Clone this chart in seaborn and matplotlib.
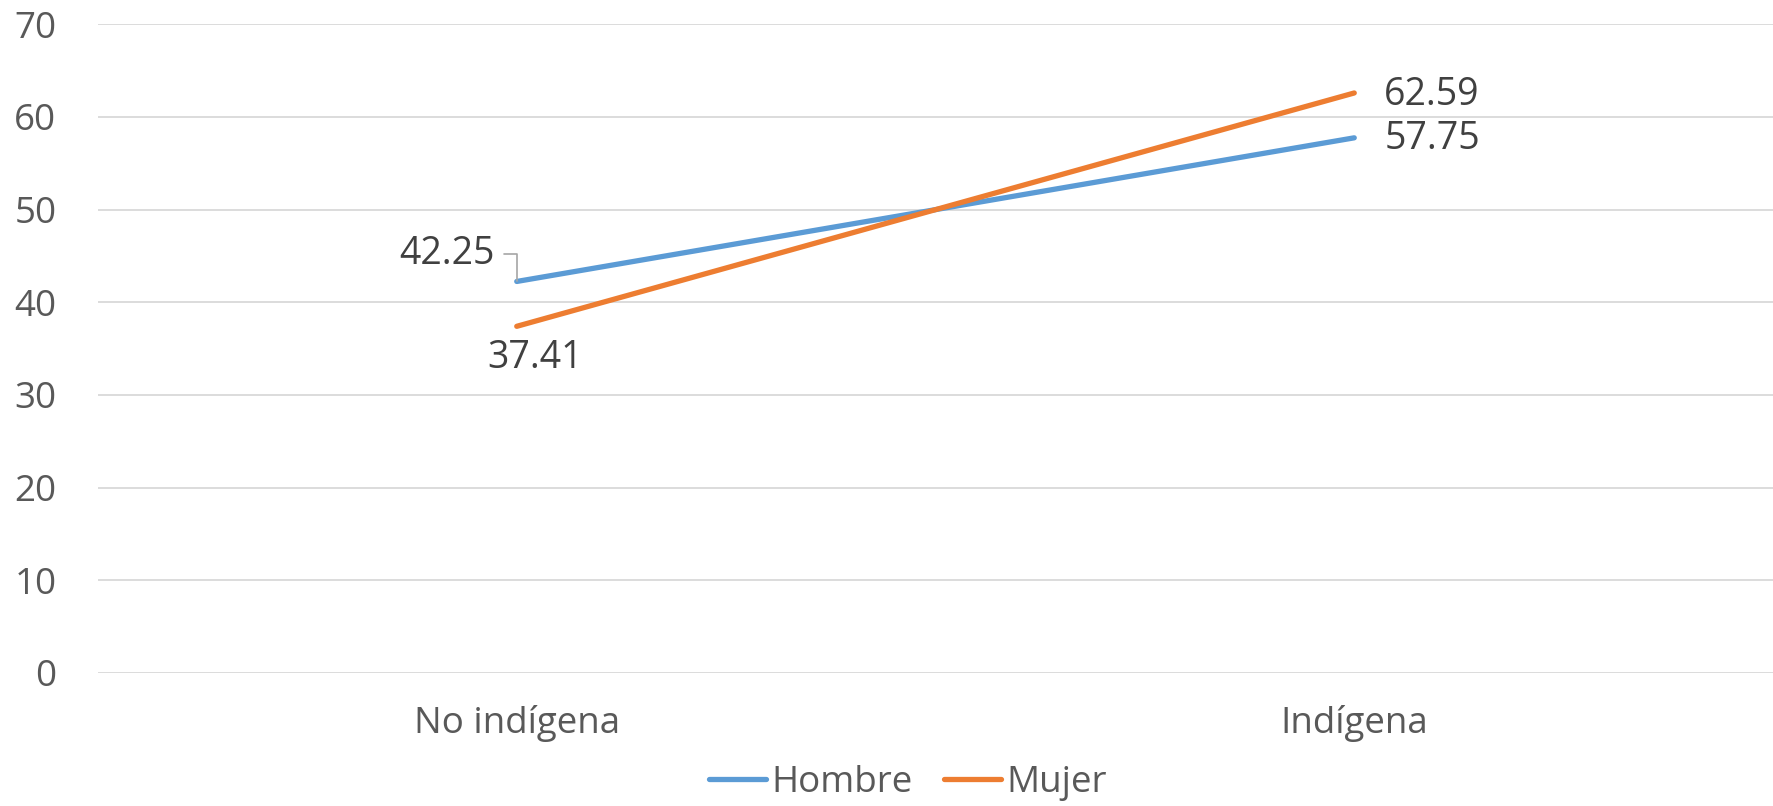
import matplotlib
matplotlib.use("Agg")
import matplotlib.pyplot as plt
import seaborn as sns
import pandas as pd

# datos
categorias = ["No indígena", "Indígena"]
hombre = [42.25, 57.75]
mujer = [37.41, 62.59]
series = ["Hombre", "Mujer"]
colores = ["#5B9BD5", "#ED7D31"]
y_ticks = [0, 10, 20, 30, 40, 50, 60, 70]

df = pd.DataFrame({
    "grupo": categorias * 2,
    "valor": hombre + mujer,
    "sexo": [series[0]] * 2 + [series[1]] * 2,
})

sns.set_style("white")
plt.rcParams['font.family'] = ['Open Sans', 'DejaVu Sans']

fig = plt.figure(figsize=(17.73, 8.06), dpi=100)
ax = fig.add_axes([98 / 1773, 1 - 673 / 806, 1 - 98 / 1773, (673 - 24.3) / 806])

sns.lineplot(data=df, x="grupo", y="valor", hue="sexo", palette=colores,
             linewidth=3.8, ax=ax, legend=False, sort=False)

ax.set_xlim(-0.5, 1.5)
ax.set_ylim(0, 70)
ax.set_yticks(y_ticks)
ax.set_xlabel("")
ax.set_ylabel("")
for s in ax.spines.values():
    s.set_visible(False)
ax.grid(axis="y", color="#D9D9D9", linewidth=1.3)
ax.set_axisbelow(True)
ax.tick_params(axis="y", length=0, pad=30, labelsize=26.5, labelcolor="#595959")
ax.tick_params(axis="x", length=0, pad=23, labelsize=26.5, labelcolor="#595959")

# etiquetas de datos
lab = dict(fontsize=27, color="#404040", textcoords="offset pixels")
ax.annotate(f"{hombre[0]:.2f}", xy=(0, hombre[0]), xytext=(-22, 27),
            ha="right", va="center",
            arrowprops=dict(arrowstyle="-", color="#A6A6A6", lw=1.2,
                            connectionstyle="angle,angleA=0,angleB=90,rad=0",
                            shrinkA=4, shrinkB=0),
            **lab)
ax.annotate(f"{mujer[0]:.2f}", xy=(0, mujer[0]), xytext=(18, -32),
            ha="center", va="center", **lab)
ax.annotate(f"{mujer[1]:.2f}", xy=(1, mujer[1]), xytext=(30, -2),
            ha="left", va="center", **lab)
ax.annotate(f"{hombre[1]:.2f}", xy=(1, hombre[1]), xytext=(30, -1),
            ha="left", va="center", **lab)

handles = [plt.Line2D([], [], color=c, lw=3.8, solid_capstyle="round") for c in colores]
leg = fig.legend(handles, series, loc="center", ncol=2,
                 bbox_to_anchor=(908 / 1773, 1 - 783 / 806), frameon=False,
                 fontsize=26.5, handlelength=1.55, handletextpad=0.15,
                 columnspacing=0.85)
for t in leg.get_texts():
    t.set_color("#595959")

fig.savefig("out.png", dpi=100)
